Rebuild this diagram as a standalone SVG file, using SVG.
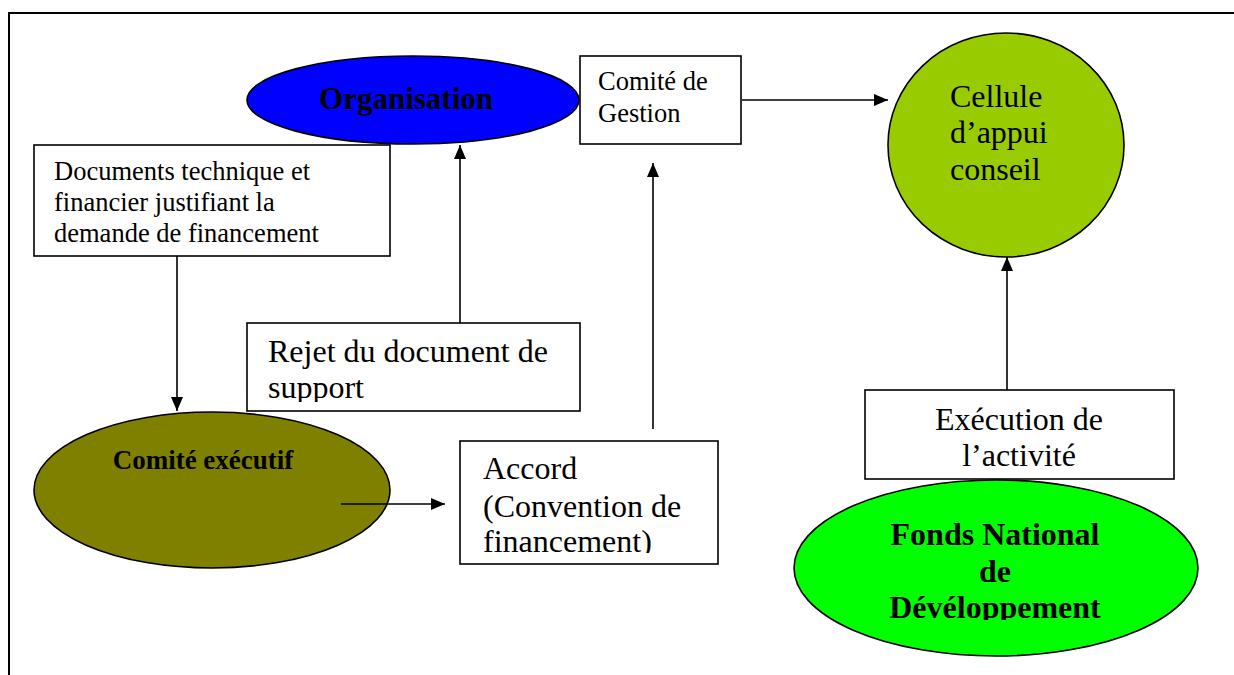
<svg xmlns="http://www.w3.org/2000/svg" width="1234" height="675" viewBox="0 0 1234 675">
<style>
.box{fill:#fff;stroke:#000;stroke-width:1.6}
.ell{stroke:#000;stroke-width:1.6}
.t{font-family:"Liberation Serif","Times New Roman",serif;fill:#000}
.b{font-weight:bold}
.c{text-anchor:middle}
.con{stroke:#000;stroke-width:1.6;fill:none}
</style>
<defs>
<marker id="ah" viewBox="0 0 14 12" refX="14" refY="6" markerWidth="14" markerHeight="12" markerUnits="userSpaceOnUse" orient="auto">
<path d="M0,0 L14,6 L0,12 Z" fill="#000"/>
</marker>
<clipPath id="cRejet"><rect x="248" y="323" width="332" height="79"/></clipPath>
<clipPath id="cAccord"><rect x="460" y="441" width="258" height="112"/></clipPath>
<clipPath id="cFonds"><rect x="794" y="480" width="404" height="140"/></clipPath>
</defs>
<rect width="1234" height="675" fill="#fff"/>
<path d="M9,675 V13 H1234" fill="none" stroke="#000" stroke-width="2"/>

<g id="organisation">
<ellipse class="ell" cx="413" cy="100" rx="166" ry="44" fill="#0000FF"/>
<text class="t b c" x="406" y="109" font-size="31">Organisation</text>
</g>

<g id="comite-gestion">
<rect class="box" x="580" y="56" width="161" height="88"/>
<text class="t" x="598" y="90" font-size="26.5">Comité de</text>
<text class="t" x="598" y="122" font-size="26.5">Gestion</text>
</g>

<g id="cellule">
<ellipse class="ell" cx="1006" cy="145" rx="118" ry="112" fill="#99CC00"/>
<text class="t" x="950" y="107" font-size="32">Cellule</text>
<text class="t" x="950" y="143" font-size="32">d’appui</text>
<text class="t" x="950" y="180" font-size="32">conseil</text>
</g>

<g id="documents">
<rect class="box" x="34" y="145" width="356" height="111"/>
<text class="t" x="54" y="180" font-size="26.5">Documents technique et</text>
<text class="t" x="54" y="211" font-size="26.5">financier justifiant la</text>
<text class="t" x="54" y="242" font-size="26.5">demande de financement</text>
</g>

<g id="comite-executif">
<ellipse class="ell" cx="212" cy="490" rx="178" ry="78" fill="#808000"/>
<text class="t b c" x="203" y="469" font-size="27">Comité exécutif</text>
</g>

<g id="rejet">
<rect class="box" x="247" y="323" width="333" height="88"/>
<g clip-path="url(#cRejet)">
<text class="t" x="268" y="362" font-size="32">Rejet du document de</text>
<text class="t" x="268" y="398" font-size="32">support</text>
</g>
</g>

<g id="accord">
<rect class="box" x="460" y="441" width="258" height="123"/>
<g clip-path="url(#cAccord)">
<text class="t" x="483" y="479" font-size="32">Accord</text>
<text class="t" x="483" y="517" font-size="32">(Convention de</text>
<text class="t" x="483" y="552" font-size="32">financement)</text>
</g>
</g>

<g id="execution">
<rect class="box" x="865" y="390" width="309" height="89"/>
<text class="t c" x="1019" y="430" font-size="32">Exécution de</text>
<text class="t c" x="1019" y="466" font-size="32">l’activité</text>
</g>

<g id="fonds">
<ellipse class="ell" cx="996" cy="568" rx="202" ry="88" fill="#00FF00"/>
<g clip-path="url(#cFonds)">
<text class="t b c" x="995" y="545" font-size="32">Fonds National</text>
<text class="t b c" x="995" y="582" font-size="32">de</text>
<text class="t b c" x="995" y="618" font-size="32">Dévéloppement</text>
</g>
</g>

<g id="connectors">
<line class="con" x1="742" y1="100" x2="888" y2="100" marker-end="url(#ah)"/>
<line class="con" x1="177" y1="256" x2="177" y2="411" marker-end="url(#ah)"/>
<line class="con" x1="460" y1="323" x2="460" y2="145" marker-end="url(#ah)"/>
<line class="con" x1="341" y1="504" x2="445" y2="504" marker-end="url(#ah)"/>
<line class="con" x1="653" y1="429" x2="653" y2="163" marker-end="url(#ah)"/>
<line class="con" x1="1007" y1="390" x2="1007" y2="257" marker-end="url(#ah)"/>
</g>
</svg>
